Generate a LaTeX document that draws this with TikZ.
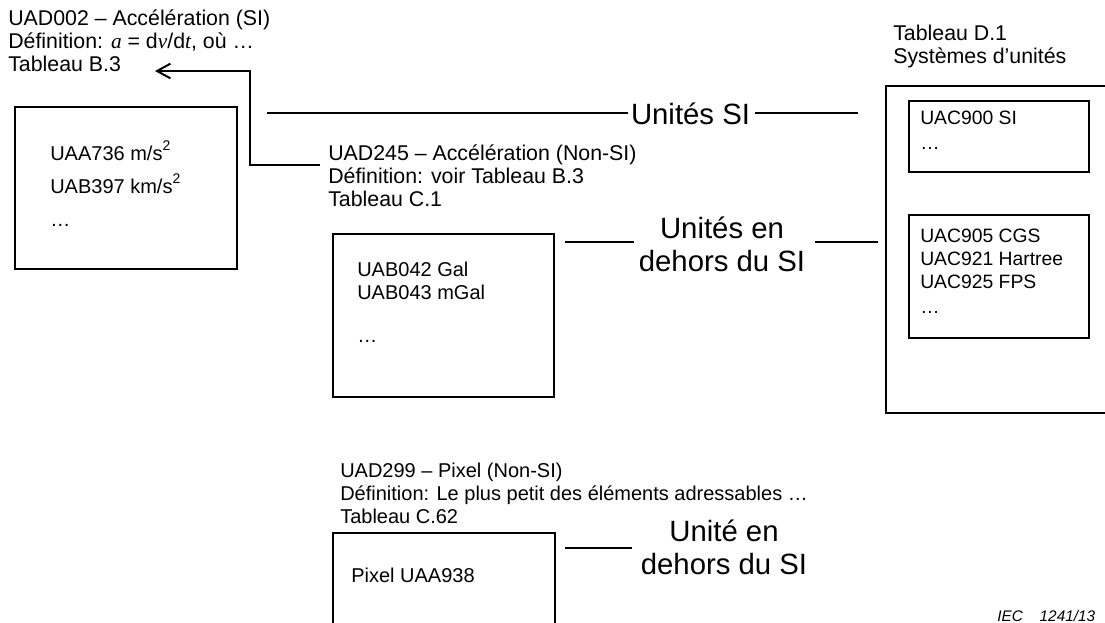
\documentclass[tikz,border=0pt]{standalone}
\usepackage{fontspec}
\setmainfont{Liberation Sans}
\newfontfamily\tnr{Liberation Serif}
\usetikzlibrary{arrows.meta}
\newcommand\fs{\fontsize{15pt}{17.25pt}\selectfont}
\newcommand\fsl{\fontsize{16pt}{17.25pt}\selectfont}
\newcommand\fsi{\fontsize{14.5pt}{17.25pt}\selectfont}
\newcommand\fsw{\fontsize{15pt}{25pt}\selectfont}
\newcommand\fb{\fontsize{22pt}{25pt}\selectfont}
\newcommand\tstr{\rule{0pt}{0.95em}}
\newcommand\sqr{\raisebox{0.5em}{\fontsize{10.5pt}{10.5pt}\selectfont 2}}
\begin{document}
\begin{tikzpicture}[x=0.75pt,y=-0.75pt,
  txt/.style={anchor=north west,inner sep=0pt,align=left,font=\fs},
  big/.style={anchor=north,inner sep=0pt,align=center,font=\fb},
  bigline/.style={anchor=base,inner sep=0pt,font=\fb},
  box/.style={draw,line width=1.5pt},
  inbox/.style={draw,line width=0.9pt},
  conn/.style={line width=1.5pt},
  arr/.style={conn,-{Straight Barb[length=10pt,width=11pt,line width=1.5pt]}},
]
\useasboundingbox (0,0) rectangle (1105,623);

% ---- texts ----
\node[txt,font=\fsl] (uad002) at (8,5.2) {\tstr UAD002 – Accélération (SI)\\Définition: {\tnr\itshape a} = d{\tnr\itshape v}/d{\tnr\itshape t}, où …\\Tableau B.3};
\node[txt,font=\fsl] (tabD) at (893,20.3) {\tstr Tableau D.1\\Systèmes d’unités};
\node[txt,font=\fsl] (uad245) at (328,139.7) {\tstr UAD245 – Accélération (Non-SI)\\Définition: voir Tableau B.3\\Tableau C.1};
\node[txt] (uad299) at (340,458) {\tstr UAD299 – Pixel (Non-SI)\\Définition: Le plus petit des éléments adressables …\\Tableau C.62};

% ---- boxes ----
\draw[box] (15,107) coordinate (boxA1) rectangle (237,269) coordinate (boxA2);
\node[txt,font=\fsw] (siunits) at (50,140) {\tstr UAA736 m/s\sqr\\UAB397 km/s\sqr\\…};

\draw[box] (333,234) coordinate (boxB1) rectangle (554,397) coordinate (boxB2);
\node[txt] (nonsi) at (357,257) {\tstr UAB042 Gal\\UAB043 mGal\\[15pt]…};

\draw[box] (886,86) coordinate (boxD1) rectangle (1115,413) coordinate (boxD2);
\draw[inbox] (909,101) coordinate (boxS1) rectangle (1089,172) coordinate (boxS2);
\node[txt,font=\fsi] (sys1) at (920,105.6) {\tstr UAC900 SI\\[2pt]…};
\draw[inbox] (909,215) coordinate (boxN1) rectangle (1089,338) coordinate (boxN2);
\node[txt,font=\fsi] (sys2) at (920,223.6) {\tstr UAC905 CGS\\UAC921 Hartree\\UAC925 FPS\\[2pt]…};

\draw[box] (333,533) coordinate (boxP1) rectangle (555,640) coordinate (boxP2);
\node[txt] (pixel) at (351,563) {\tstr Pixel UAA938};

% ---- labels ----
\node[bigline] (lblSI) at (690.5,125) {Unités SI};
\node[big] (lblNS) at (722,210.1) {\tstr Unités en\\dehors du SI};
\node[big] (lblNS2) at (724,513.1) {\tstr Unité en\\dehors du SI};

% ---- connectors ----
\coordinate (siL) at (267,113);
\coordinate (siLe) at (628,113);
\coordinate (siRs) at (755,113);
\coordinate (siR) at (858,113);
\draw[conn] (siL) -- (siLe);
\draw[conn] (siRs) -- (siR);

\coordinate (nsL) at (565,242);
\coordinate (nsLe) at (634,242);
\coordinate (nsRs) at (815,242);
\coordinate (nsR) at (878,242);
\draw[conn] (nsL) -- (nsLe);
\draw[conn] (nsRs) -- (nsR);

\coordinate (pxL) at (565,548);
\coordinate (pxLe) at (632,548);
\draw[conn] (pxL) -- (pxLe);

\coordinate (c245) at (320,165);
\coordinate (bend) at (250,71);
\coordinate (tip) at (155,71);
\draw[arr] (c245) -| (bend) -- (tip);

\node[anchor=base west,inner sep=0pt,font=\fontsize{11.5pt}{13pt}\selectfont\itshape] (iec) at (997,621) {IEC\hspace{1.1em}1241/13};
\end{tikzpicture}
\end{document}
